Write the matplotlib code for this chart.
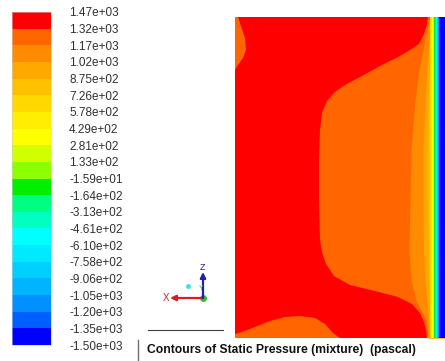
import matplotlib
matplotlib.use("Agg")
import matplotlib.pyplot as plt
import matplotlib as mpl
from matplotlib.colors import ListedColormap, BoundaryNorm

plt.rcParams["font.family"] = ["Liberation Sans", "DejaVu Sans"]

W, H = 445, 361

# ---------------------------------------------------------------------------
# Contour levels (pascal), top -> bottom, and the band colours between them
# ---------------------------------------------------------------------------
LEVELS = [1470, 1320, 1170, 1020, 875, 726, 578, 429, 281, 133, -15.9,
          -164, -313, -461, -610, -758, -906, -1050, -1200, -1350, -1500]
BAND_COLORS = ["#ff0000", "#ff6600", "#ff8c00", "#ffa800", "#ffc000",
               "#ffd800", "#ffee00", "#ffff00", "#d2ff00", "#8cff00",
               "#00ee00", "#00ff80", "#00ffc0", "#00ffff", "#00eaff",
               "#00d0ff", "#00b4ff", "#0090ff", "#0060ff", "#0000ff"]

# ---------------------------------------------------------------------------
# Domain (x from left wall, y from bottom)
# ---------------------------------------------------------------------------
DOMAIN_W, DOMAIN_H = 210, 321

# highest band (red) region outline
RED_X = [3, 193, 192, 189, 184, 175, 163, 145, 125, 110, 100, 92, 87, 85,
         84, 84, 85, 87, 91, 99, 115, 140, 163, 177, 185, 189, 191, 192,
         105, 98, 90, 80, 65, 50, 35, 20, 7, 0, 0, 3, 8, 11, 10, 6]
RED_Y = [321, 321, 314, 304, 294, 288, 281, 272, 261, 253, 246, 237, 225,
         208, 178, 138, 98, 86, 74, 62, 53, 47, 41, 34, 25, 16, 8, 0,
         0, 5, 14, 20, 22, 21, 17, 11, 6, 4, 268, 273, 280, 288, 300, 312]

# curved band edges near the right wall
EDGE_Y = [0, 18, 38, 58, 88, 138, 188, 238, 268, 293, 313, 321]
EDGE_B3 = [193, 191, 181, 176, 174, 175, 176, 180, 184, 189, 193, 195]
EDGE_B4 = [194.5, 193.5, 192, 190, 188.5, 188, 188, 190, 192, 194, 195.5, 196]
EDGE_B5 = [195.5, 195, 194.5, 194, 193.5, 193, 193, 193.5, 194.5, 195.5, 196.5, 197]
# nearly straight edges of the remaining bands (band 6 .. band 20)
EDGE_INNER = [195.0, 196.3, 197.3, 198.1, 198.8, 199.4, 200.0, 200.5,
              201.0, 201.5, 202.0, 202.5, 203.0, 203.5, 204.0]

fig = plt.figure(figsize=(W / 100, H / 100), dpi=100)
fig.patch.set_facecolor("white")

# ---------------------------------------------------------------------------
# Contour field
# ---------------------------------------------------------------------------
ax = fig.add_axes([235 / W, (H - 338) / H, DOMAIN_W / W, DOMAIN_H / H])
ax.set_xlim(0, DOMAIN_W)
ax.set_ylim(0, DOMAIN_H)
ax.axis("off")

ax.fill_between([0, DOMAIN_W], 0, DOMAIN_H, color=BAND_COLORS[1], lw=0)
for k, edge in zip([2, 3, 4], [EDGE_B3, EDGE_B4, EDGE_B5]):
    ax.fill_betweenx(EDGE_Y, edge, DOMAIN_W, color=BAND_COLORS[k], lw=0)
for k, x in enumerate(EDGE_INNER, start=5):
    ax.axvspan(x, DOMAIN_W, color=BAND_COLORS[k], lw=0)
ax.fill(RED_X, RED_Y, color=BAND_COLORS[0], lw=0)

# ---------------------------------------------------------------------------
# Colour bar
# ---------------------------------------------------------------------------
cax = fig.add_axes([12 / W, (H - 345) / H, 39 / W, 333 / H])
bounds = LEVELS[::-1]
cmap = ListedColormap(BAND_COLORS[::-1])
norm = BoundaryNorm(bounds, cmap.N)
cb = mpl.colorbar.ColorbarBase(cax, cmap=cmap, norm=norm, boundaries=bounds,
                               ticks=bounds, spacing="uniform")
cb.ax.set_yticklabels([f"{v:.2e}" for v in bounds])
cb.ax.tick_params(length=0, pad=13, labelsize=8.5, colors="#303030")
cb.outline.set_linewidth(0.4)
cb.outline.set_edgecolor("#cccccc")

# ---------------------------------------------------------------------------
# Axis triad, rules and caption
# ---------------------------------------------------------------------------
ov = fig.add_axes([0, 0, 1, 1])
ov.set_xlim(0, W)
ov.set_ylim(H, 0)
ov.axis("off")
ov.patch.set_alpha(0)

ov.annotate("", xy=(170, 298), xytext=(203, 298),
            arrowprops=dict(arrowstyle="-|>", color="#d42020", lw=1.6,
                            mutation_scale=8, shrinkA=0, shrinkB=0))
ov.annotate("", xy=(203, 272), xytext=(203, 298),
            arrowprops=dict(arrowstyle="-|>", color="#2020b0", lw=1.6,
                            mutation_scale=8, shrinkA=0, shrinkB=0))
ov.text(166, 298, "X", color="#d42020", fontsize=7, ha="center", va="center")
ov.text(203, 268, "Z", color="#2020b0", fontsize=6.5, ha="center", va="center")
ov.text(201, 289, "Y", color="#30b030", fontsize=5, ha="center", va="center")
ov.plot([203], [298], "o", color="#30c030", ms=4)
ov.plot([188], [286], "o", color="#40e0e0", ms=2.5)

ov.plot([148, 223], [330, 330], color="#404040", lw=0.8)
ov.plot([138, 138], [340, 361], color="#707070", lw=1.0)
ov.text(147, 350, "Contours of Static Pressure (mixture)  (pascal)",
        fontsize=8.7, fontweight="bold", ha="left", va="center", color="#111111")

fig.savefig("out.png", dpi=100, facecolor="white")
